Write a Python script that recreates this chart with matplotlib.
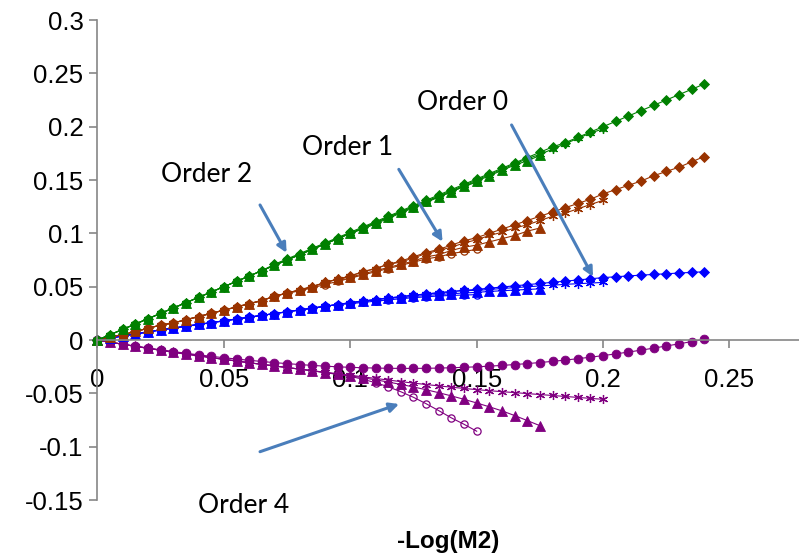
import matplotlib
matplotlib.use('Agg')
import matplotlib.pyplot as plt

plt.rcParams['axes.unicode_minus'] = False
plt.rcParams['font.family'] = 'Liberation Sans'

# -Log(M2) sample positions, shared by all series (shorter runs use the first n)
log_m2 = [0.000, 0.005, 0.010, 0.015, 0.020, 0.025, 0.030, 0.035, 0.040, 0.045,
          0.050, 0.055, 0.060, 0.065, 0.070, 0.075, 0.080, 0.085, 0.090, 0.095,
          0.100, 0.105, 0.110, 0.115, 0.120, 0.125, 0.130, 0.135, 0.140, 0.145,
          0.150, 0.155, 0.160, 0.165, 0.170, 0.175, 0.180, 0.185, 0.190, 0.195,
          0.200, 0.205, 0.210, 0.215, 0.220, 0.225, 0.230, 0.235, 0.240]

# Order 2
o2_diamond = [0.000, 0.005, 0.010, 0.015, 0.020, 0.025, 0.030, 0.035, 0.040, 0.045,
              0.050, 0.055, 0.060, 0.065, 0.071, 0.076, 0.081, 0.086, 0.091, 0.096,
              0.101, 0.106, 0.111, 0.116, 0.121, 0.126, 0.131, 0.136, 0.141, 0.146,
              0.151, 0.156, 0.161, 0.166, 0.171, 0.176, 0.181, 0.185, 0.190, 0.195,
              0.200, 0.205, 0.210, 0.215, 0.220, 0.225, 0.230, 0.235, 0.240]
o2_star = [0.000, 0.005, 0.010, 0.015, 0.020, 0.025, 0.030, 0.035, 0.040, 0.045,
           0.050, 0.055, 0.060, 0.065, 0.070, 0.075, 0.080, 0.085, 0.090, 0.095,
           0.100, 0.105, 0.110, 0.115, 0.120, 0.125, 0.130, 0.135, 0.140, 0.145,
           0.150, 0.155, 0.160, 0.165, 0.170, 0.174, 0.179, 0.184, 0.189, 0.194,
           0.198]
o2_tri = [0.000, 0.005, 0.010, 0.015, 0.020, 0.025, 0.030, 0.035, 0.040, 0.045,
          0.050, 0.055, 0.060, 0.065, 0.070, 0.075, 0.080, 0.085, 0.090, 0.095,
          0.100, 0.105, 0.110, 0.115, 0.120, 0.125, 0.130, 0.134, 0.139, 0.144,
          0.149, 0.154, 0.159, 0.164, 0.168, 0.173]
o2_circ = [0.000, 0.005, 0.010, 0.015, 0.020, 0.025, 0.030, 0.035, 0.040, 0.045,
           0.050, 0.055, 0.060, 0.065, 0.070, 0.075, 0.080, 0.085, 0.090, 0.095,
           0.100, 0.104, 0.109, 0.114, 0.119, 0.124, 0.129, 0.134, 0.139, 0.144,
           0.148]

# Order 1
o1_diamond = [0.000, 0.003, 0.005, 0.008, 0.011, 0.014, 0.016, 0.019, 0.022, 0.025,
              0.028, 0.031, 0.034, 0.037, 0.041, 0.044, 0.047, 0.050, 0.054, 0.057,
              0.060, 0.064, 0.067, 0.071, 0.074, 0.078, 0.082, 0.085, 0.089, 0.093,
              0.096, 0.100, 0.104, 0.108, 0.112, 0.116, 0.120, 0.124, 0.128, 0.132,
              0.137, 0.141, 0.145, 0.149, 0.154, 0.158, 0.162, 0.167, 0.172]
o1_star = [0.000, 0.003, 0.005, 0.008, 0.011, 0.014, 0.016, 0.019, 0.022, 0.025,
           0.028, 0.031, 0.034, 0.037, 0.041, 0.044, 0.047, 0.050, 0.054, 0.057,
           0.060, 0.064, 0.067, 0.071, 0.073, 0.077, 0.081, 0.084, 0.087, 0.091,
           0.094, 0.098, 0.101, 0.105, 0.108, 0.112, 0.116, 0.119, 0.123, 0.127,
           0.131]
o1_tri = [0.000, 0.003, 0.005, 0.008, 0.011, 0.014, 0.016, 0.019, 0.022, 0.025,
          0.028, 0.031, 0.034, 0.037, 0.041, 0.044, 0.047, 0.050, 0.054, 0.057,
          0.059, 0.062, 0.065, 0.068, 0.071, 0.074, 0.078, 0.080, 0.084, 0.087,
          0.089, 0.092, 0.095, 0.098, 0.102, 0.105]
o1_circ = [0.000, 0.003, 0.005, 0.008, 0.011, 0.014, 0.016, 0.019, 0.022, 0.025,
           0.028, 0.031, 0.034, 0.037, 0.041, 0.044, 0.046, 0.049, 0.052, 0.055,
           0.058, 0.061, 0.064, 0.067, 0.070, 0.073, 0.076, 0.078, 0.081, 0.083,
           0.085]

# Order 0
o0_diamond = [0.0000, 0.0019, 0.0038, 0.0057, 0.0076, 0.0095, 0.0112, 0.0129, 0.0146, 0.0163,
              0.0180, 0.0197, 0.0214, 0.0231, 0.0248, 0.0265, 0.0282, 0.0299, 0.0316, 0.0333,
              0.0350, 0.0365, 0.0379, 0.0393, 0.0407, 0.0420, 0.0432, 0.0443, 0.0454, 0.0465,
              0.0475, 0.0486, 0.0497, 0.0508, 0.0519, 0.0530, 0.0541, 0.0552, 0.0563, 0.0574,
              0.0585, 0.0593, 0.0601, 0.0608, 0.0615, 0.0621, 0.0628, 0.0634, 0.0640]
o0_star = [0.0000, 0.0019, 0.0038, 0.0057, 0.0076, 0.0095, 0.0112, 0.0129, 0.0146, 0.0163,
           0.0180, 0.0197, 0.0214, 0.0231, 0.0248, 0.0265, 0.0282, 0.0299, 0.0316, 0.0333,
           0.0350, 0.0365, 0.0379, 0.0393, 0.0407, 0.0420, 0.0432, 0.0443, 0.0454, 0.0465,
           0.0465, 0.0474, 0.0483, 0.0491, 0.0499, 0.0507, 0.0514, 0.0522, 0.0528, 0.0534,
           0.0540]
o0_tri = [0.0000, 0.0019, 0.0038, 0.0057, 0.0076, 0.0095, 0.0112, 0.0129, 0.0146, 0.0163,
          0.0180, 0.0197, 0.0214, 0.0231, 0.0248, 0.0265, 0.0282, 0.0299, 0.0316, 0.0333,
          0.0350, 0.0365, 0.0379, 0.0393, 0.0397, 0.0408, 0.0418, 0.0426, 0.0434, 0.0441,
          0.0447, 0.0455, 0.0462, 0.0468, 0.0474, 0.0480]
o0_circ = [0.0000, 0.0019, 0.0038, 0.0057, 0.0076, 0.0095, 0.0112, 0.0129, 0.0146, 0.0163,
           0.0180, 0.0197, 0.0214, 0.0231, 0.0248, 0.0265, 0.0282, 0.0299, 0.0316, 0.0333,
           0.0340, 0.0353, 0.0364, 0.0376, 0.0387, 0.0397, 0.0405, 0.0413, 0.0418, 0.0422,
           0.0425]

# Order 4
o4_dot = [0.0000, -0.0020, -0.0040, -0.0057, -0.0075, -0.0092, -0.0108, -0.0124, -0.0139, -0.0153,
          -0.0166, -0.0178, -0.0190, -0.0201, -0.0212, -0.0221, -0.0230, -0.0238, -0.0245, -0.0251,
          -0.0256, -0.0260, -0.0263, -0.0265, -0.0266, -0.0266, -0.0265, -0.0263, -0.0260, -0.0256,
          -0.0251, -0.0245, -0.0238, -0.0230, -0.0221, -0.0211, -0.0200, -0.0188, -0.0175, -0.0161,
          -0.0146, -0.0130, -0.0113, -0.0095, -0.0076, -0.0056, -0.0036, -0.0015, 0.0006]
o4_star = [0.0000, -0.0020, -0.0040, -0.0059, -0.0078, -0.0096, -0.0114, -0.0131, -0.0148, -0.0165,
           -0.0181, -0.0197, -0.0213, -0.0228, -0.0243, -0.0258, -0.0273, -0.0288, -0.0302, -0.0316,
           -0.0330, -0.0345, -0.0360, -0.0375, -0.0390, -0.0404, -0.0417, -0.0430, -0.0442, -0.0454,
           -0.0465, -0.0475, -0.0484, -0.0493, -0.0502, -0.0511, -0.0520, -0.0529, -0.0538, -0.0547,
           -0.0556]
o4_tri = [0.0000, -0.0020, -0.0040, -0.0059, -0.0078, -0.0096, -0.0114, -0.0131, -0.0148, -0.0165,
          -0.0181, -0.0197, -0.0213, -0.0228, -0.0243, -0.0258, -0.0273, -0.0288, -0.0305, -0.0320,
          -0.0336, -0.0354, -0.0373, -0.0394, -0.0416, -0.0440, -0.0466, -0.0494, -0.0524, -0.0556,
          -0.0590, -0.0626, -0.0664, -0.0708, -0.0755, -0.0803]
o4_circ = [0.0000, -0.0020, -0.0040, -0.0059, -0.0078, -0.0096, -0.0114, -0.0131, -0.0148, -0.0165,
           -0.0181, -0.0197, -0.0213, -0.0228, -0.0243, -0.0258, -0.0273, -0.0288, -0.0306, -0.0322,
           -0.0340, -0.0368, -0.0400, -0.0438, -0.0485, -0.0537, -0.0597, -0.0662, -0.0730, -0.0790,
           -0.0855]

xticks = [0, 0.05, 0.1, 0.15, 0.2, 0.25]
xticklabels = ['0', '0.05', '0.1', '0.15', '0.2', '0.25']
yticks = [-0.15, -0.1, -0.05, 0, 0.05, 0.1, 0.15, 0.2, 0.25, 0.3]
yticklabels = ['-0.15', '-0.1', '-0.05', '0', '0.05', '0.1', '0.15', '0.2', '0.25', '0.3']

GREEN = '#008000'
BROWN = '#993300'
BLUE = '#0000ff'
PURPLE = '#800080'
ARROW = '#4a7ebb'

fig = plt.figure(figsize=(7.99, 5.59), dpi=100)
ax = fig.add_axes([0.122, 0.1055, 0.878, 0.8587])


def series(y, color, marker, ms, hollow=False, mew=0.6):
    n = len(y)
    ax.plot(log_m2[:n], y, color=color, lw=0.8, marker=marker, markersize=ms,
            markeredgewidth=mew, markeredgecolor=color,
            markerfacecolor='none' if hollow else color, clip_on=False)


STAR = (6, 2, 0)
groups = [
    (PURPLE, o4_circ, o4_tri, o4_star, o4_dot, 'o'),
    (BLUE, o0_circ, o0_tri, o0_star, o0_diamond, 'D'),
    (BROWN, o1_circ, o1_tri, o1_star, o1_diamond, 'D'),
    (GREEN, o2_circ, o2_tri, o2_star, o2_diamond, 'D'),
]
for color, circ, tri, star, longest, mk in groups:
    series(circ, color, 'o', 5.2, hollow=True, mew=0.9)
    series(tri, color, '^', 6.5)
    series(star, color, STAR, 6.5, mew=0.9)
    series(longest, color, mk, 6.3 if mk == 'o' else 5.0)

ax.set_xlim(0, 0.2775)
ax.set_ylim(-0.15, 0.3)

for side in ['top', 'right']:
    ax.spines[side].set_visible(False)
ax.spines['bottom'].set_position(('data', 0))
for side in ['left', 'bottom']:
    ax.spines[side].set_color('#868686')
    ax.spines[side].set_linewidth(1.2)

ax.set_xticks(xticks)
ax.set_xticklabels(xticklabels)
ax.set_yticks(yticks)
ax.set_yticklabels(yticklabels)
ax.tick_params(axis='x', direction='out', length=6, width=1.2, color='#868686', pad=14, labelsize=18.5)
ax.tick_params(axis='y', direction='out', length=6, width=1.2, color='#868686', pad=4, labelsize=18.5)

# annotation arrows and labels
arrows = [
    ((0.0643, 0.1266), (0.0748, 0.0818)),
    ((0.1192, 0.1600), (0.1365, 0.0922)),
    ((0.1638, 0.2016), (0.1960, 0.0593)),
    ((0.0643, -0.1047), (0.1193, -0.0600)),
]
for tail, tip in arrows:
    ax.annotate('', xy=tip, xytext=tail,
                arrowprops=dict(arrowstyle='-|>', color=ARROW, lw=2.2,
                                mutation_scale=14, shrinkA=0, shrinkB=0))

labels = [('Order 0', 0.1445, 0.2226), ('Order 1', 0.0990, 0.1805),
          ('Order 2', 0.0433, 0.1556), ('Order 4', 0.0580, -0.1547)]
for txt, x, y in labels:
    ax.text(x, y, txt, fontsize=19, family='Lato', ha='center', va='center')

fig.text(0.561, 0.032, '-Log(M2)', fontsize=17.5, fontweight='bold', ha='center', va='center')

fig.savefig('out.png', dpi=100)
